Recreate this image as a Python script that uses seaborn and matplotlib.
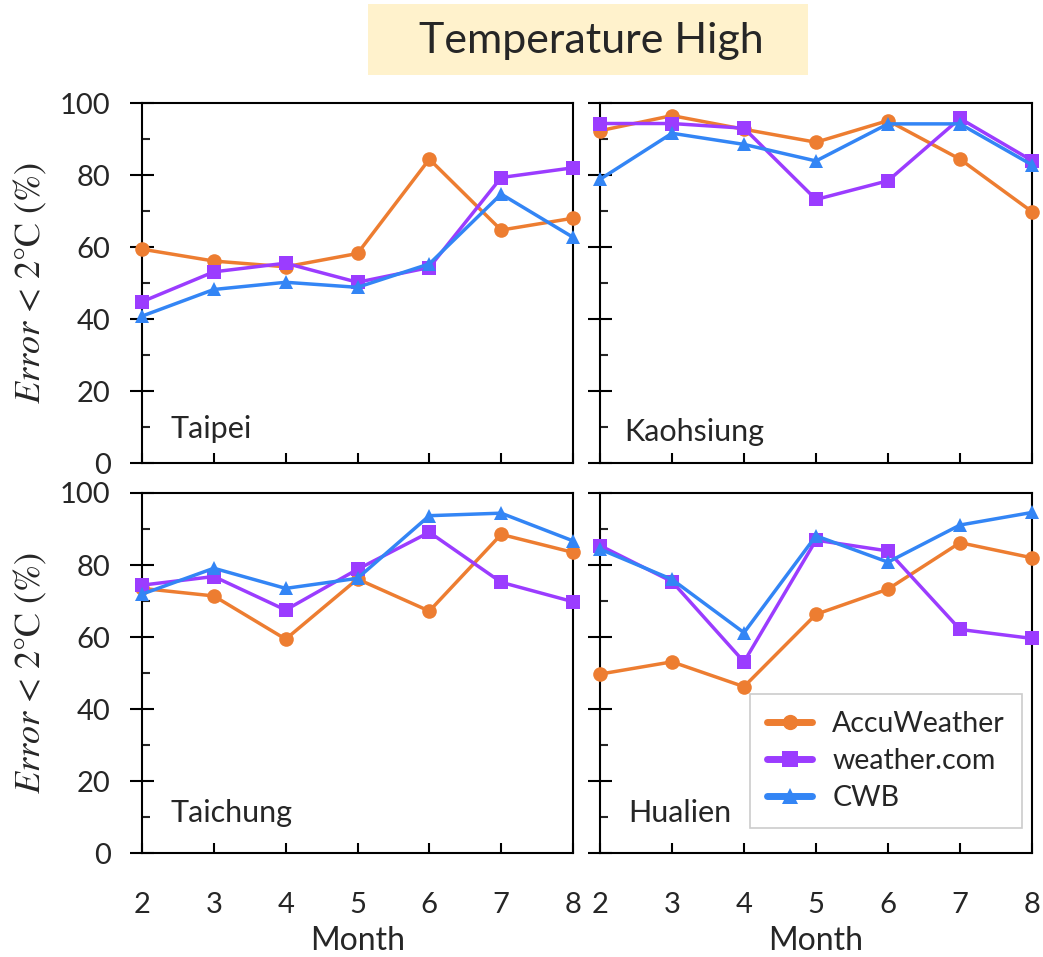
import numpy as np
import pandas as pd
import matplotlib
matplotlib.use("Agg")
import matplotlib.pyplot as plt
import seaborn as sns
from matplotlib.ticker import MultipleLocator
from matplotlib.patches import Rectangle

months = [2, 3, 4, 5, 6, 7, 8]
sources = ["AccuWeather", "weather.com", "CWB"]
cities = ["Taipei", "Kaohsiung", "Taichung", "Hualien"]

taipei_accu = [59.4, 56.1, 54.5, 58.2, 84.4, 64.7, 68.0]
taipei_wcom = [44.8, 53.1, 55.5, 50.2, 54.3, 79.3, 82.0]
taipei_cwb = [40.8, 48.2, 50.2, 48.8, 55.3, 74.7, 62.7]

kaohsiung_accu = [92.3, 96.5, 92.7, 89.1, 95.1, 84.4, 69.8]
kaohsiung_wcom = [94.3, 94.3, 93.0, 73.2, 78.4, 95.7, 84.0]
kaohsiung_cwb = [78.8, 91.6, 88.5, 83.9, 94.2, 94.2, 82.8]

taichung_accu = [73.5, 71.4, 59.4, 76.1, 67.2, 88.5, 83.5]
taichung_wcom = [74.4, 76.8, 67.5, 78.8, 89.1, 75.2, 69.8]
taichung_cwb = [71.9, 79.1, 73.5, 76.3, 93.7, 94.4, 86.7]

hualien_accu = [49.7, 53.1, 46.2, 66.3, 73.3, 86.2, 82.0]
hualien_wcom = [85.4, 75.4, 53.1, 86.9, 83.9, 62.1, 59.6]
hualien_cwb = [84.4, 76.0, 61.2, 88.1, 80.8, 91.1, 94.6]

city_data = {
    "Taipei": [taipei_accu, taipei_wcom, taipei_cwb],
    "Kaohsiung": [kaohsiung_accu, kaohsiung_wcom, kaohsiung_cwb],
    "Taichung": [taichung_accu, taichung_wcom, taichung_cwb],
    "Hualien": [hualien_accu, hualien_wcom, hualien_cwb],
}

rows = []
for city, series in city_data.items():
    for src, vals in zip(sources, series):
        for m, v in zip(months, vals):
            rows.append({"city": city, "source": src, "month": m, "value": v})
df = pd.DataFrame(rows)

sns.set_theme(style="white")
plt.rcParams["font.family"] = ["Lato", "DejaVu Sans"]
plt.rcParams["mathtext.fontset"] = "stix"

palette = {"AccuWeather": "#ED7D31", "weather.com": "#9B3CFF", "CWB": "#3385F5"}
markers = {"AccuWeather": "o", "weather.com": "s", "CWB": "^"}

fig = plt.figure(figsize=(10.43, 9.57), dpi=100)
W, H = 1043, 957
boxes = {
    "Taipei": (142, 103, 573, 463),
    "Kaohsiung": (600, 103, 1032, 463),
    "Taichung": (142, 493, 573, 853),
    "Hualien": (600, 493, 1032, 853),
}
label_pos = {
    "Taipei": (0.065, 0.095),
    "Kaohsiung": (0.056, 0.085),
    "Taichung": (0.067, 0.11),
    "Hualien": (0.065, 0.11),
}

axes = {}
for city, (x0, y0, x1, y1) in boxes.items():
    ax = fig.add_axes([x0 / W, 1 - y1 / H, (x1 - x0) / W, (y1 - y0) / H])
    axes[city] = ax
    sub = df[df.city == city]
    sns.lineplot(data=sub, x="month", y="value", hue="source", style="source",
                 hue_order=sources, style_order=sources,
                 palette=palette, markers=markers, dashes=False,
                 linewidth=2.5, markersize=10.5, markeredgewidth=0,
                 ax=ax, legend=(city == "Hualien"))
    for ln in ax.lines:
        ln.set_clip_on(False)
    ax.set_xlim(2, 8)
    ax.set_ylim(0, 100)
    ax.yaxis.set_major_locator(MultipleLocator(20))
    ax.yaxis.set_minor_locator(MultipleLocator(10))
    ax.xaxis.set_major_locator(MultipleLocator(1))
    ax.tick_params(axis="y", which="major", direction="inout", length=17, width=1.5,
                   left=True, right=False, labelsize=21, pad=14, color="black")
    ax.tick_params(axis="y", which="minor", direction="in", length=6, width=1.5,
                   left=True, right=False)
    ax.tick_params(axis="x", which="major", direction="in", length=7, width=1.5,
                   bottom=True, top=False, labelsize=21, pad=28, color="black")
    for s in ax.spines.values():
        s.set_color("black")
        s.set_linewidth(1.5)
        s.set_zorder(1)
    ax.set_xlabel("")
    ax.set_ylabel("")
    if city in ("Kaohsiung", "Hualien"):
        ax.tick_params(axis="y", labelleft=False)
    if city in ("Taipei", "Taichung"):
        pass
    if city in ("Taipei", "Kaohsiung"):
        ax.tick_params(axis="x", labelbottom=False)
    else:
        ax.set_xlabel("Month", fontsize=23, labelpad=6)
    if city in ("Taipei", "Taichung"):
        ax.set_ylabel(r"$Error$ < 2°C (%)", fontsize=26, family="STIXGeneral", labelpad=8)
    lx, ly = label_pos[city]
    ax.text(lx, ly, city, transform=ax.transAxes, fontsize=22, ha="left", va="center")

leg_ax = axes["Hualien"]
leg = leg_ax.legend(loc="lower right", bbox_to_anchor=(0.977, 0.069), borderaxespad=0,
                    fontsize=20.5, frameon=True, fancybox=False, edgecolor="#CCCCCC",
                    framealpha=1, facecolor="white",
                    borderpad=0.6, handlelength=1.6, handletextpad=0.7,
                    labelspacing=0.38)
leg.get_frame().set_linewidth(1.2)
leg.set_zorder(10)
for h in leg.legend_handles:
    h.set_linewidth(5)
    h.set_markersize(11)

fig.patches.append(Rectangle((368 / W, 1 - 75 / H), 440 / W, 71 / H,
                             transform=fig.transFigure, facecolor="#FFF2CC",
                             edgecolor="none", zorder=0))
fig.text(591 / W, 1 - 41 / H, "Temperature High", fontsize=31, ha="center", va="center")

fig.savefig("out.png", dpi=100)
